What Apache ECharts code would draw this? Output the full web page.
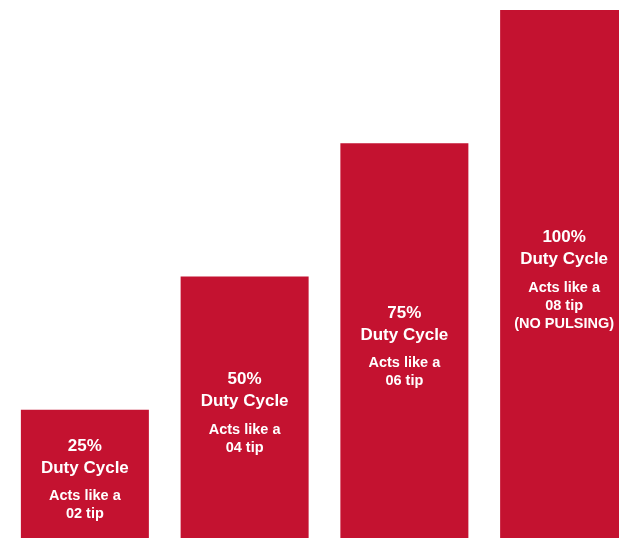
<!DOCTYPE html>
<html>
<head>
<meta charset="UTF-8">
<title>Duty Cycle</title>
<style>
html,body{margin:0;padding:0;background:#fff;overflow:hidden;width:619px;height:538px;}
/* the bars run past the right and bottom edges, so the canvas is a bit bigger than the window */
#main{width:645px;height:545px;}
</style>
</head>
<body>
<div id="main"></div>
<script src="https://cdn.jsdelivr.net/npm/echarts@6/dist/echarts.min.js"></script>
<script>
// data
var dutyCycles = ['25%', '50%', '75%', '100%'];
var dutyValues = [25, 50, 75, 100];
var tipSizes = ['02 tip', '04 tip', '06 tip', '08 tip'];
var extraNotes = ['', '', '', '(NO PULSING)'];

var chart = echarts.init(document.getElementById('main'));

function labelText(i) {
	var s = '{t|' + dutyCycles[i] + '}\n{t|Duty Cycle}\n{g| }\n{s|Acts like a}\n{s|' + tipSizes[i] + '}';
	if (extraNotes[i]) s += '\n{s|' + extraNotes[i] + '}';
	return s;
}

chart.setOption({
	animation: false,
	grid: { left: 5, top: 10, bottom: 2, right: 1 },
	xAxis: {
		type: 'category',
		data: dutyCycles,
		show: false
	},
	yAxis: {
		type: 'value',
		min: 0,
		max: 100,
		show: false
	},
	series: [{
		type: 'bar',
		barWidth: 128,
		data: dutyValues,
		itemStyle: { color: '#C41230' },
		label: {
			show: true,
			position: 'inside',
			offset: [0, 3],
			formatter: function (p) { return labelText(p.dataIndex); },
			rich: {
				t: { color: '#fff', fontFamily: 'Liberation Sans', fontWeight: 'bold', fontSize: 17, lineHeight: 22, align: 'center' },
				g: { fontSize: 1, lineHeight: 8 },
				s: { color: '#fff', fontFamily: 'Liberation Sans', fontWeight: 'bold', fontSize: 14.5, lineHeight: 18, align: 'center' }
			}
		}
	}]
});
</script>
</body>
</html>
